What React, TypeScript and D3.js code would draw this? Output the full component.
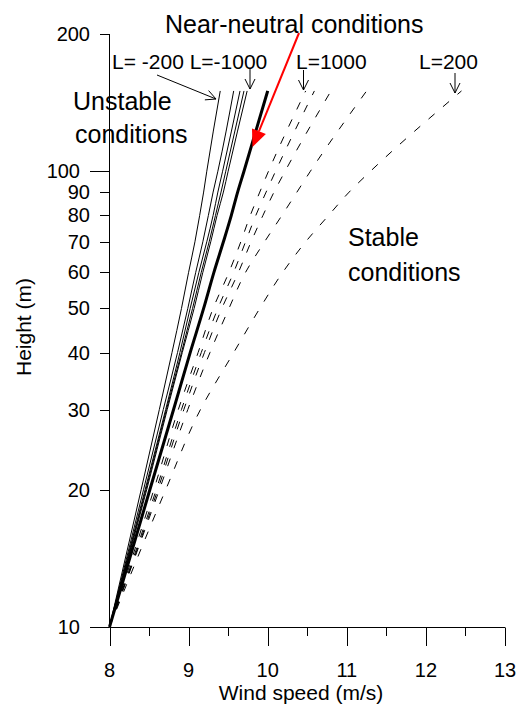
import React from "react";
import * as d3 from "d3";

// ---- data ----
const heights = [10, 20, 30, 40, 50, 60, 70, 80, 90, 100, 150];

const neutral = [8.0, 8.51, 8.81, 9.02, 9.19, 9.32, 9.44, 9.54, 9.62, 9.7, 10.0];

// unstable (solid)
const unstable200 = [8.0, 8.4, 8.63, 8.79, 8.91, 9.0, 9.08, 9.14, 9.19, 9.23, 9.4];
const unstable300 = [8.0, 8.43, 8.68, 8.86, 8.99, 9.09, 9.18, 9.25, 9.31, 9.37, 9.57];
const unstable500 = [8.0, 8.45, 8.71, 8.89, 9.02, 9.13, 9.23, 9.31, 9.37, 9.43, 9.65];
const unstable700 = [8.0, 8.46, 8.72, 8.91, 9.05, 9.16, 9.26, 9.34, 9.41, 9.47, 9.7];
const unstable1000 = [8.0, 8.47, 8.73, 8.92, 9.07, 9.18, 9.28, 9.36, 9.44, 9.5, 9.74];

// stable (dashed)
const stable1000 = [8.0, 8.56, 8.87, 9.12, 9.31, 9.51, 9.66, 9.78, 9.9, 10.01, 10.48];
const stable800 = [8.0, 8.59, 8.91, 9.16, 9.37, 9.57, 9.72, 9.85, 9.98, 10.1, 10.59];
const stable600 = [8.0, 8.61, 8.94, 9.2, 9.42, 9.63, 9.79, 9.94, 10.08, 10.22, 10.8];
const stable400 = [8.0, 8.63, 8.99, 9.27, 9.51, 9.72, 9.96, 10.18, 10.37, 10.54, 11.25];
const stable200 = [8.0, 8.71, 9.15, 9.57, 9.9, 10.19, 10.48, 10.77, 11.03, 11.3, 12.45];

const unstableSeries = [unstable200, unstable300, unstable500, unstable700, unstable1000];
const stableSeries = [stable1000, stable800, stable600, stable400, stable200];

const xMajorTicks = [8, 9, 10, 11, 12, 13];
const xMinorTicks = [8.5, 9.5, 10.5, 11.5, 12.5];
const yTicks = [10, 20, 30, 40, 50, 60, 70, 80, 90, 100, 200];
const yMajorTicks = [10, 100];

const xTitle = "Wind speed (m/s)";
const yTitle = "Height (m)";

const FONT = "'Liberation Sans', Arial, Helvetica, sans-serif";

export default function App() {
  const W = 520;
  const H = 706;
  const x = d3.scaleLinear().domain([8, 13]).range([109.5, 505]);
  const y = d3.scaleLog().domain([10, 200]).range([627, 34]);

  const line = d3
    .line<number>()
    .x((d) => x(d))
    .y((_, i) => y(heights[i]))
    .curve(d3.curveMonotoneY);

  const axisX = 109.5;
  const axisY = 627.5;

  const openArrow = (x1: number, y1: number, x2: number, y2: number) => {
    const a = Math.atan2(y2 - y1, x2 - x1);
    const len = 10;
    const half = 5;
    const bx = x2 - len * Math.cos(a);
    const by = y2 - len * Math.sin(a);
    const px = -Math.sin(a) * half;
    const py = Math.cos(a) * half;
    return (
      <g stroke="#000" strokeWidth={1} fill="none">
        <line x1={x1} y1={y1} x2={x2} y2={y2} />
        <polyline points={`${bx + px},${by + py} ${x2},${y2} ${bx - px},${by - py}`} />
      </g>
    );
  };

  // red arrow
  const rx1 = 299, ry1 = 33, rx2 = 252.5, ry2 = 147;
  const ra = Math.atan2(ry2 - ry1, rx2 - rx1);
  const rLen = 17, rHalf = 7.5;
  const rbx = rx2 - rLen * Math.cos(ra);
  const rby = ry2 - rLen * Math.sin(ra);
  const rpx = -Math.sin(ra) * rHalf;
  const rpy = Math.cos(ra) * rHalf;

  return (
    <svg
      width={W}
      height={H}
      style={{ position: "absolute", left: 0, top: 0, background: "#fff" }}
      fontFamily={FONT}
    >
      <rect x={0} y={0} width={W} height={H} fill="#fff" />

      {/* axes */}
      <g stroke="#000" strokeWidth={1} fill="none">
        <line x1={axisX} y1={y(200)} x2={axisX} y2={axisY} />
        <line x1={axisX} y1={axisY} x2={x(13)} y2={axisY} />
        {yTicks.map((t) => {
          const major = yMajorTicks.includes(t);
          const yy = Math.round(y(t)) + 0.5;
          return <line key={"yt" + t} x1={major ? 90 : 100} x2={axisX} y1={yy} y2={yy} />;
        })}
        {xMajorTicks.map((t) => {
          const xx = Math.round(x(t)) + 0.5;
          return <line key={"xt" + t} x1={xx} x2={xx} y1={axisY} y2={646} />;
        })}
        {xMinorTicks.map((t) => {
          const xx = Math.round(x(t)) + 0.5;
          return <line key={"xm" + t} x1={xx} x2={xx} y1={axisY} y2={636} />;
        })}
      </g>

      {/* tick labels */}
      <g fontSize={20} fill="#000">
        {yTicks.map((t) => {
          const major = yMajorTicks.includes(t);
          return (
            <text
              key={"yl" + t}
              x={major ? 80 : 90}
              y={y(t) + 7}
              textAnchor="end"
            >
              {t}
            </text>
          );
        })}
        {xMajorTicks.map((t) => (
          <text key={"xl" + t} x={x(t)} y={677} textAnchor="middle">
            {t}
          </text>
        ))}
      </g>

      {/* axis titles */}
      <text x={301} y={700} fontSize={21} textAnchor="middle">
        {xTitle}
      </text>
      <text
        transform={`translate(31,327) rotate(-90)`}
        fontSize={21}
        textAnchor="middle"
      >
        {yTitle}
      </text>

      {/* stable dashed */}
      <g fill="none" stroke="#000" strokeWidth={1} strokeDasharray="8,11">
        {stableSeries.map((s, i) => (
          <path key={"s" + i} d={line(s) || ""} />
        ))}
      </g>

      {/* unstable solid */}
      <g fill="none" stroke="#000" strokeWidth={1}>
        {unstableSeries.map((s, i) => (
          <path key={"u" + i} d={line(s) || ""} />
        ))}
      </g>

      {/* neutral thick */}
      <path d={line(neutral) || ""} fill="none" stroke="#000" strokeWidth={3} />

      {/* annotations */}
      <g fill="#000">
        <text x={165} y={33} fontSize={25}>Near-neutral conditions</text>
        <text x={112} y={69} fontSize={21}>L= -200 L=-1000</text>
        <text x={296} y={69} fontSize={21}>L=1000</text>
        <text x={419} y={69} fontSize={21}>L=200</text>
        <text x={73} y={110} fontSize={25}>Unstable</text>
        <text x={75} y={143} fontSize={25}>conditions</text>
        <text x={348} y={246} fontSize={25}>Stable</text>
        <text x={348} y={281} fontSize={25}>conditions</text>
      </g>

      {openArrow(157, 75, 216, 99)}
      {openArrow(250, 68, 250, 89)}
      {openArrow(303.5, 70, 303.5, 90)}
      {openArrow(455, 73, 455, 93)}

      <line x1={rx1} y1={ry1} x2={rbx} y2={rby} stroke="#f00" strokeWidth={2} />
      <polygon
        points={`${rbx + rpx},${rby + rpy} ${rx2},${ry2} ${rbx - rpx},${rby - rpy}`}
        fill="#f00"
      />
    </svg>
  );
}
